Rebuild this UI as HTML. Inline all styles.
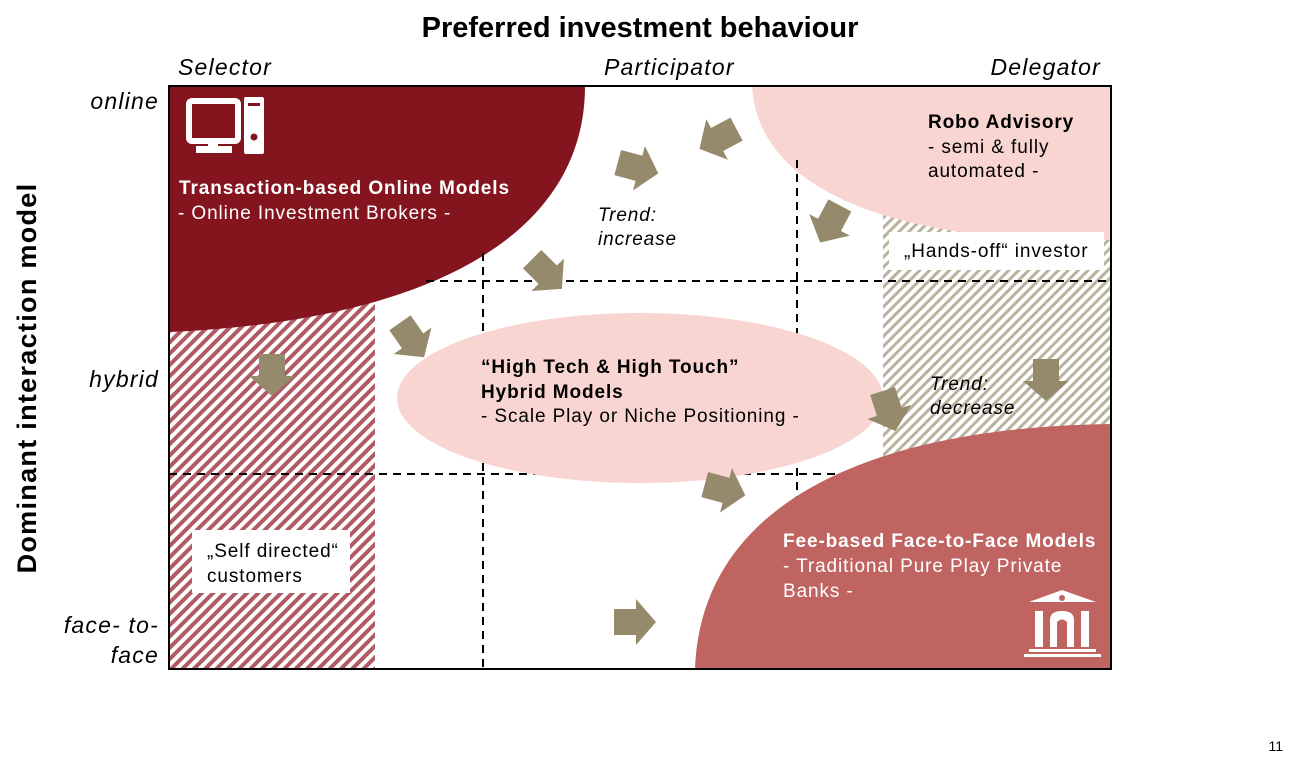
<!DOCTYPE html>
<html><head><meta charset="utf-8"><style>
html,body{margin:0;padding:0;background:#fff;}
svg{display:block;font-family:"Liberation Sans",Arial,sans-serif;}
</style></head><body>
<svg width="1293" height="765" viewBox="0 0 1293 765" xmlns="http://www.w3.org/2000/svg">
<defs>
<pattern id="hr" width="8" height="8" patternUnits="userSpaceOnUse" patternTransform="rotate(45)">
<rect width="8" height="8" fill="#fff"/><rect width="4" height="8" fill="#b05a66"/></pattern>
<pattern id="hg" width="7" height="7" patternUnits="userSpaceOnUse" patternTransform="rotate(45)">
<rect width="7" height="7" fill="#fff"/><rect width="3" height="7" fill="#b8b29e"/></pattern>
<path id="ar" d="M-21,-13 L1,-13 L1,-23 L21,0 L1,23 L1,13 L-21,13 Z" fill="#968a6c"/>
</defs>
<text x="640" y="37" font-size="29" font-weight="bold" text-anchor="middle">Preferred investment behaviour</text>
<g font-size="23" font-style="italic" letter-spacing="1.2">
<text x="178" y="75">Selector</text>
<text x="604" y="75">Participator</text>
<text x="1101" y="75" text-anchor="end">Delegator</text>
<text x="159" y="109" text-anchor="end">online</text>
<text x="159" y="387" text-anchor="end">hybrid</text>
<text x="159" y="633" text-anchor="end">face- to-</text>
<text x="159" y="663" text-anchor="end">face</text>
</g>
<text transform="translate(36,378) rotate(-90)" font-size="27" font-weight="bold" letter-spacing="1.3" text-anchor="middle">Dominant interaction model</text>
<text x="1283" y="751" font-size="14" text-anchor="end">11</text>

<rect x="169" y="290" width="206" height="379" fill="url(#hr)"/>
<rect x="883" y="205" width="228" height="464" fill="url(#hg)"/>
<path d="M169,86 L585,86 C585,230 440,320 169,332 Z" fill="#84151f"/>
<path d="M752,86 L1111,86 L1111,240 C920,245 758,200 752,86 Z" fill="#f8d5d0"/>
<rect x="889" y="232" width="215" height="38" fill="#fff"/>
<rect x="192" y="530" width="158" height="63" fill="#fff"/>
<g stroke="#000" stroke-width="2" stroke-dasharray="8,6" fill="none">
<line x1="426" y1="281" x2="1111" y2="281"/>
<line x1="169" y1="474" x2="1111" y2="474"/>
<line x1="483" y1="253" x2="483" y2="669"/>
<line x1="797" y1="160" x2="797" y2="669"/>
</g>
<use href="#ar" transform="translate(412,340) rotate(55)"/>
<use href="#ar" transform="translate(547,274) rotate(45)"/>
<ellipse cx="640" cy="398" rx="243" ry="85" fill="#f8d5d0"/>
<path d="M695,669 C700,520 840,428 1111,424 L1111,669 Z" fill="#c06461"/>
<rect x="169" y="86" width="942" height="583" fill="none" stroke="#000" stroke-width="2"/>
<use href="#ar" transform="translate(638,168) rotate(15)"/>
<use href="#ar" transform="translate(718,139) rotate(152)"/>
<use href="#ar" transform="translate(830,224) rotate(118)"/>
<use href="#ar" transform="translate(272,375) rotate(90)"/>
<use href="#ar" transform="translate(889,411) rotate(72)"/>
<use href="#ar" transform="translate(1046,380) rotate(90)"/>
<use href="#ar" transform="translate(725,490) rotate(15)"/>
<use href="#ar" transform="translate(635,622) rotate(0)"/>
<g fill="none" stroke="#fff" stroke-width="6">
<rect x="189" y="101" width="49" height="40" rx="3"/>
</g>
<g fill="#fff">
<rect x="208" y="141" width="10" height="6"/>
<rect x="196" y="146" width="36" height="7"/>
<rect x="244" y="97" width="20" height="57" rx="2"/>
</g>
<rect x="248" y="103" width="12" height="3" fill="#84151f"/>
<circle cx="254" cy="137" r="3.5" fill="#84151f"/>
<g fill="#fff">
<path d="M1029,602 L1062,590 L1096,602 Z"/>
<rect x="1035" y="611" width="8" height="36"/>
<rect x="1081" y="611" width="8" height="36"/>
<path d="M1050,647 L1050,620 Q1050,611 1062,611 Q1074,611 1074,620 L1074,647 L1067,647 L1067,622 Q1062,617 1057,622 L1057,647 Z"/>
<rect x="1029" y="649" width="67" height="3"/>
<rect x="1024" y="654" width="77" height="3"/>
</g>
<circle cx="1062" cy="598" r="3" fill="#c06461"/>
<g font-size="19" letter-spacing="0.9" fill="#fff">
<text x="179" y="194" font-weight="bold">Transaction-based Online Models</text>
<text x="178" y="219">- Online Investment Brokers -</text>
<text x="783" y="547" font-weight="bold">Fee-based Face-to-Face Models</text>
<text x="783" y="572">- Traditional Pure Play Private</text>
<text x="783" y="597">Banks -</text>
</g>
<g font-size="19" letter-spacing="0.9" fill="#000">
<text x="928" y="128" font-weight="bold">Robo Advisory</text>
<text x="928" y="153">- semi &amp; fully</text>
<text x="928" y="177">automated -</text>
<text x="904" y="257">„Hands-off“ investor</text>
<text x="481" y="373" font-weight="bold">“High Tech &amp; High Touch”</text>
<text x="481" y="398" font-weight="bold">Hybrid Models</text>
<text x="481" y="422">- Scale Play or Niche Positioning -</text>
<text x="207" y="557">„Self directed“</text>
<text x="207" y="582">customers</text>
<g font-style="italic">
<text x="598" y="221">Trend:</text>
<text x="598" y="245">increase</text>
<text x="930" y="390">Trend:</text>
<text x="930" y="414">decrease</text>
</g>
</g>
</svg>
</body></html>
